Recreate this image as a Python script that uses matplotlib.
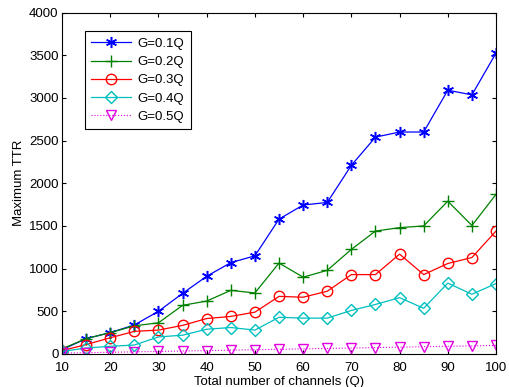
import numpy as np
import matplotlib.pyplot as plt

plt.rcParams['font.family'] = ['Liberation Sans', 'DejaVu Sans']

# Данные
channels = [10, 15, 20, 25, 30, 35, 40, 45, 50, 55, 60, 65, 70, 75, 80, 85, 90, 95, 100]
ttr_g01 = [50, 180, 250, 340, 500, 710, 910, 1070, 1150, 1580, 1745, 1775, 2210, 2540,
           2600, 2600, 3090, 3035, 3525]
ttr_g02 = [60, 180, 250, 330, 365, 570, 620, 745, 715, 1065, 900, 980, 1225, 1440,
           1480, 1500, 1790, 1505, 1870]
ttr_g03 = [40, 110, 190, 265, 280, 335, 415, 440, 490, 675, 665, 735, 930, 930,
           1170, 930, 1060, 1130, 1440]
ttr_g04 = [30, 70, 90, 105, 200, 220, 290, 310, 280, 430, 420, 420, 510, 580,
           660, 535, 830, 700, 825]
ttr_g05 = [10, 15, 20, 25, 30, 35, 40, 45, 50, 55, 60, 65, 70, 75, 80, 85, 90, 95, 100]
labels = ['G=0.1Q', 'G=0.2Q', 'G=0.3Q', 'G=0.4Q', 'G=0.5Q']

fig = plt.figure(figsize=(5.1, 3.87), dpi=100)
ax = fig.add_axes([0.1216, 0.0853, 0.851, 0.8824])

# звёздочка как в MATLAB — шестилучевой астериск
ax.plot(channels, ttr_g01, '-', color='#0000ff', marker=(6, 2, 0), ms=8, mew=1.1, lw=0.9, label=labels[0])
ax.plot(channels, ttr_g02, '-', color='#008000', marker='+', ms=8, lw=0.9, label=labels[1])
ax.plot(channels, ttr_g03, '-', color='#ff0000', marker='o', ms=7.5, mfc='none', lw=0.9, label=labels[2])
ax.plot(channels, ttr_g04, '-', color='#00bfbf', marker='D', ms=6, mfc='none', lw=0.9, label=labels[3])
ax.plot(channels, ttr_g05, ':', color='#e000e0', marker='v', ms=7.5, mfc='none', lw=0.8, label=labels[4])

ax.set_xlim(10, 100)
ax.set_ylim(0, 4000)
ax.set_xticks(np.arange(10, 101, 10))
ax.set_yticks(np.arange(0, 4001, 500))
ax.tick_params(direction='in', top=True, right=True, labelsize=9.5, length=3, width=0.8, pad=2.5)
ax.tick_params(axis='x', pad=5.5)
for s in ax.spines.values():
    s.set_linewidth(0.8)

ax.set_xlabel('Total number of channels (Q)', fontsize=9.5, labelpad=1.5)
ax.set_ylabel('Maximum TTR', fontsize=9.5, labelpad=3)

leg = ax.legend(loc='upper left', bbox_to_anchor=(0.052, 0.945), fontsize=9.5, fancybox=False,
                framealpha=1, edgecolor='black', handlelength=3.0, labelspacing=0.45,
                borderpad=0.5, handletextpad=0.5, borderaxespad=0)
leg.get_frame().set_linewidth(0.8)

plt.savefig('out.png', dpi=100)
